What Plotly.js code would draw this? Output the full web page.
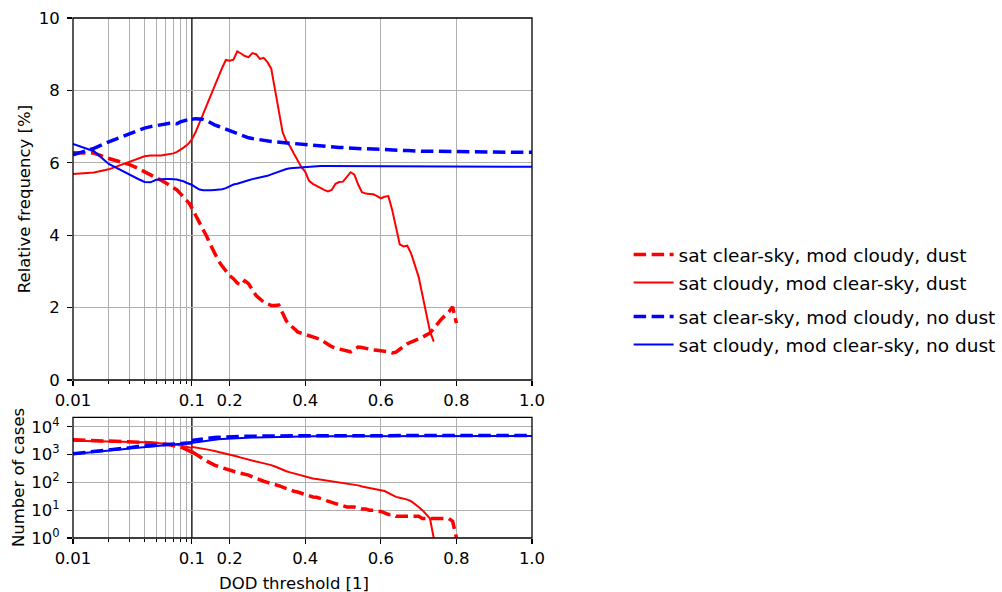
<!DOCTYPE html>
<html>
<head>
<meta charset="utf-8">
<script src="https://cdn.plot.ly/plotly-3.0.1.min.js"></script>
<style>html,body{margin:0;padding:0;background:#fff}#chart{width:1002px;height:592px}</style>
</head>
<body>
<div id="chart"></div>
<script>
// ---- data ----
const dodThreshold = [
  0.01,0.015,0.02,0.025,0.03,0.035,0.04,0.045,0.05,0.055,0.06,0.065,0.07,0.075,0.08,0.085,0.09,0.095,0.1,
  0.11,0.12,0.13,0.14,0.15,0.16,0.17,0.18,0.19,0.2,
  0.21,0.22,0.23,0.24,0.25,0.26,0.27,0.28,0.29,0.3,
  0.31,0.32,0.33,0.34,0.35,0.36,0.37,0.38,0.39,0.4,
  0.41,0.42,0.43,0.44,0.45,0.46,0.47,0.48,0.49,0.5,
  0.51,0.52,0.53,0.54,0.55,0.56,0.57,0.58,0.59,0.6,
  0.61,0.62,0.63,0.64,0.65,0.66,0.67,0.68,0.69,0.7,
  0.71,0.72,0.73,0.74,0.75,0.76,0.77,0.78,0.79,0.8,
  0.85,0.9,0.95,1.0
];

const legendLabels = [
  'sat clear-sky, mod cloudy, dust',
  'sat cloudy, mod clear-sky, dust',
  'sat clear-sky, mod cloudy, no dust',
  'sat cloudy, mod clear-sky, no dust'
];

// Relative frequency [%]
const freqClearCloudyDust = [
  6.28,6.27,6.12,6.02,5.95,5.85,5.76,5.68,5.60,5.52,5.45,5.37,5.30,5.25,5.15,5.06,4.98,4.88,4.75,
  4.55,4.38,4.18,3.95,3.72,3.50,3.30,3.15,3.00,2.88,
  2.80,2.68,2.62,2.74,2.66,2.48,2.33,2.24,2.15,2.10,
  2.06,2.06,2.07,1.85,1.63,1.52,1.42,1.33,1.29,1.26,
  1.24,1.21,1.16,1.12,1.05,0.99,0.92,0.88,0.85,0.82,
  0.79,0.78,0.85,0.91,0.90,0.87,0.85,0.83,0.82,0.81,
  0.80,0.78,0.75,0.77,0.85,0.93,1.00,1.05,1.09,1.13,
  1.18,1.24,1.30,1.42,1.56,1.68,1.78,1.88,2.02,1.57,
  null,null,null,null
];
const freqCloudyClearDust = [
  5.69,5.73,5.82,5.94,6.03,6.10,6.18,6.20,6.19,6.20,6.22,6.24,6.26,6.30,6.35,6.42,6.48,6.55,6.65,
  6.85,7.10,7.38,7.65,7.90,8.12,8.40,8.62,8.84,8.82,
  8.85,9.08,9.02,8.95,8.92,9.03,9.00,8.87,8.90,8.78,
  8.60,8.05,7.40,6.85,6.59,6.45,6.25,6.05,5.88,5.75,
  5.50,5.42,5.36,5.30,5.25,5.21,5.25,5.42,5.47,5.48,
  5.62,5.74,5.67,5.40,5.19,5.15,5.14,5.13,5.08,5.02,
  5.06,5.08,4.70,4.25,3.75,3.69,3.71,3.50,3.20,2.85,
  2.35,1.85,1.35,1.06,null,null,null,null,null,null,
  null,null,null,null
];
const freqClearCloudyNoDust = [
  6.22,6.40,6.58,6.70,6.82,6.90,6.96,7.00,7.03,7.05,7.07,7.09,7.10,7.08,7.13,7.16,7.19,7.20,7.21,
  7.22,7.21,7.20,7.16,7.10,7.05,7.01,6.97,6.93,6.89,
  6.85,6.80,6.75,6.71,6.69,6.67,6.65,6.63,6.61,6.60,
  6.59,6.58,6.57,6.55,6.54,6.53,6.52,6.51,6.51,6.50,
  6.49,6.48,6.47,6.46,6.45,6.44,6.44,6.43,6.42,6.42,
  6.41,6.41,6.40,6.40,6.39,6.39,6.38,6.38,6.38,6.37,
  6.37,6.36,6.36,6.35,6.35,6.34,6.34,6.33,6.33,6.33,
  6.32,6.32,6.32,6.32,6.31,6.31,6.31,6.31,6.31,6.30,
  6.30,6.30,6.29,6.29
];
const freqCloudyClearNoDust = [
  6.52,6.32,5.97,5.80,5.67,5.56,5.47,5.46,5.53,5.55,5.55,5.55,5.55,5.54,5.51,5.49,5.45,5.42,5.39,
  5.32,5.26,5.24,5.23,5.24,5.25,5.25,5.27,5.30,5.35,
  5.40,5.42,5.46,5.48,5.52,5.55,5.57,5.59,5.62,5.64,
  5.68,5.72,5.76,5.80,5.83,5.85,5.86,5.87,5.88,5.89,
  5.90,5.91,5.91,5.91,5.91,5.91,5.91,5.91,5.91,5.91,
  5.91,5.91,5.91,5.91,5.91,5.91,5.91,5.91,5.91,5.91,
  5.91,5.91,5.91,5.91,5.91,5.90,5.90,5.90,5.90,5.90,
  5.90,5.90,5.90,5.90,5.90,5.90,5.90,5.90,5.90,5.90,
  5.90,5.90,5.89,5.89
];

// Number of cases
const casesClearCloudyDust = [
  3388,3236,3090,2951,2884,2818,2754,2630,2570,2455,2344,2239,2138,1995,1862,1698,1549,1413,1259,
  1047,851,676,562,479,417,372,331,302,282,
  251,229,214,204,182,158,138,120,110,100,
  93,85,76,68,59,52,48,45,41,36,
  32,30,29,27,24,21,19,17,15,14,
  13,13,13,12,11,11,10,10,9,9,
  8,7,7,6,6,6,6,6,6,6,
  5,5,5,5,5,5,5,5,4,1,
  null,null,null,null
];
const casesCloudyClearDust = [
  3162,3090,3020,2951,2884,2818,2754,2692,2630,2570,2455,2399,2291,2239,2138,2089,1995,1950,1905,
  1778,1660,1585,1514,1445,1349,1259,1175,1096,1023,
  933,851,776,708,646,603,562,525,490,457,
  417,372,324,282,251,229,209,191,178,162,
  148,138,132,126,120,115,110,105,100,98,
  95,91,85,78,71,66,63,59,55,52,
  49,42,34,30,28,26,24,21,17,13,
  10,7,5,1,null,null,null,null,null,null,
  null,null,null,null
];
const casesClearCloudyNoDust = [
  1072,1259,1445,1622,1778,1950,2089,2239,2344,2512,2630,2754,2884,2951,3020,3090,3162,3236,3311,
  3467,3631,3802,3890,3981,4074,4169,4266,4315,4365,
  4410,4450,4490,4530,4571,4600,4620,4640,4660,4677,
  4690,4700,4710,4720,4730,4740,4750,4760,4770,4786,
  4790,4790,4790,4790,4790,4790,4790,4790,4790,4790,
  4800,4800,4800,4800,4800,4800,4800,4800,4800,4800,
  4810,4810,4810,4810,4810,4810,4810,4810,4810,4810,
  4820,4820,4820,4820,4820,4820,4820,4820,4820,4820,
  4830,4830,4840,4840
];
const casesCloudyClearNoDust = [
  1047,1202,1380,1514,1660,1778,1905,1995,2089,2188,2239,2291,2344,2399,2455,2512,2570,2630,2692,
  2818,2951,3090,3236,3388,3467,3548,3631,3715,3802,
  3850,3900,3950,4000,4074,4110,4150,4190,4230,4266,
  4290,4310,4330,4350,4380,4410,4440,4470,4500,4519,
  4530,4530,4530,4530,4530,4530,4530,4530,4530,4530,
  4550,4550,4550,4550,4550,4550,4550,4550,4550,4550,
  4570,4570,4570,4570,4570,4570,4570,4570,4570,4570,
  4590,4590,4590,4590,4590,4590,4590,4590,4590,4590,
  4600,4600,4610,4620
];

const logTickVals = [0.01, 0.1];
const logTickText = ['0.01', '0.1'];
const logMinorVals = [0.02,0.03,0.04,0.05,0.06,0.07,0.08,0.09];
const linTickVals = [0.2, 0.4, 0.6, 0.8, 1.0];
const linTickText = ['0.2', '0.4', '0.6', '0.8', '1.0'];
const freqTickVals = [0, 2, 4, 6, 8, 10];
const casesTickVals = [1, 10, 100, 1000, 10000];
const casesTickText = ['10<sup>0</sup>','10<sup>1</sup>','10<sup>2</sup>','10<sup>3</sup>','10<sup>4</sup>'];

// ---- styling ----
const FONT = 'DejaVu Sans, sans-serif';
const TICKFS = 16.5;
const GRID = '#b0b0b0';
const SPLIT = 0.259;          // fraction of the width used by the log part (0.01–0.1)
const TOP_DOM = [0.3038, 1];
const BOT_DOM = [0, 0.2321];
const DASH = '12.5px,5.5px';

const seriesDefs = [
  {name: legendLabels[0], freq: freqClearCloudyDust, cases: casesClearCloudyDust, color: '#ff0000', dash: DASH, width: 3.5, legend: 'legend', group: 'g1'},
  {name: legendLabels[1], freq: freqCloudyClearDust, cases: casesCloudyClearDust, color: '#ff0000', dash: 'solid', width: 2, legend: 'legend', group: 'g2'},
  {name: legendLabels[2], freq: freqClearCloudyNoDust, cases: casesClearCloudyNoDust, color: '#0000ff', dash: DASH, width: 3.5, legend: 'legend2', group: 'g3'},
  {name: legendLabels[3], freq: freqCloudyClearNoDust, cases: casesCloudyClearNoDust, color: '#0000ff', dash: 'solid', width: 2, legend: 'legend2', group: 'g4'}
];

const traces = [];
seriesDefs.forEach(d => {
  const base = {type: 'scatter', mode: 'lines', x: dodThreshold, connectgaps: false,
    line: {color: d.color, dash: d.dash, width: d.width}, hoverinfo: 'skip', legendgroup: d.group, legend: d.legend, name: d.name};
  traces.push(Object.assign({}, base, {y: d.freq, xaxis: 'x', yaxis: 'y', showlegend: false}));
  traces.push(Object.assign({}, base, {y: d.freq, xaxis: 'x2', yaxis: 'y', showlegend: true}));
  traces.push(Object.assign({}, base, {y: d.cases, xaxis: 'x3', yaxis: 'y2', showlegend: false}));
  traces.push(Object.assign({}, base, {y: d.cases, xaxis: 'x4', yaxis: 'y2', showlegend: false}));
});

function logAxis(anchor) {
  return {type: 'log', domain: [0, SPLIT], range: [Math.log10(0.01), Math.log10(0.1)], anchor: anchor,
    tickmode: 'array', tickvals: logTickVals, ticktext: logTickText,
    ticks: 'outside', ticklen: 5, tickwidth: 1.2, tickcolor: '#000', ticklabelstandoff: 0,
    showgrid: true, gridcolor: GRID, gridwidth: 1.1, zeroline: false, showline: false,
    tickfont: {family: FONT, size: TICKFS, color: '#000'},
    minor: {tickmode: 'array', tickvals: logMinorVals, ticks: 'outside', ticklen: 3, tickwidth: 1, tickcolor: '#000',
      showgrid: true, gridcolor: GRID, gridwidth: 1.1}};
}
function linAxis(anchor) {
  return {type: 'linear', domain: [SPLIT, 1], range: [0.1, 1.0], anchor: anchor,
    tickmode: 'array', tickvals: linTickVals, ticktext: linTickText,
    ticks: 'outside', ticklen: 5, tickwidth: 1.2, tickcolor: '#000', ticklabelstandoff: 0,
    showgrid: true, gridcolor: GRID, gridwidth: 1.1, zeroline: false, showline: false,
    tickfont: {family: FONT, size: TICKFS, color: '#000'}};
}

const legendCommon = {xref: 'paper', yref: 'paper', xanchor: 'left', yanchor: 'top',
  font: {family: FONT, size: 18.5, color: '#000'}, bgcolor: 'rgba(0,0,0,0)', borderwidth: 0,
  traceorder: 'grouped', tracegroupgap: 1, itemwidth: 40, itemclick: false, itemdoubleclick: false};

const layout = {
  width: 1002, height: 592,
  margin: {l: 73, r: 470, t: 18, b: 54, pad: 0, autoexpand: false},
  paper_bgcolor: '#ffffff', plot_bgcolor: '#ffffff',
  font: {family: FONT, size: TICKFS, color: '#000'},
  showlegend: true,
  xaxis: logAxis('y'),
  xaxis2: linAxis('y'),
  xaxis3: logAxis('y2'),
  xaxis4: linAxis('y2'),
  yaxis: {domain: TOP_DOM, range: [0, 10], anchor: 'x', tickmode: 'array', tickvals: freqTickVals,
    ticks: 'outside', ticklen: 5, tickwidth: 1.2, tickcolor: '#000', ticklabelstandoff: 4,
    showgrid: true, gridcolor: GRID, gridwidth: 1.1, zeroline: false, showline: false,
    tickfont: {family: FONT, size: TICKFS, color: '#000'}},
  yaxis2: {domain: BOT_DOM, type: 'log', range: [0, 4.34], anchor: 'x3', tickmode: 'array',
    tickvals: casesTickVals, ticktext: casesTickText,
    ticks: 'outside', ticklen: 5, tickwidth: 1.2, tickcolor: '#000', ticklabelstandoff: 4,
    showgrid: true, gridcolor: GRID, gridwidth: 1.1, zeroline: false, showline: false,
    tickfont: {family: FONT, size: TICKFS, color: '#000'}},
  legend: Object.assign({}, legendCommon, {x: 1.2105, y: 0.581}),
  legend2: Object.assign({}, legendCommon, {x: 1.2105, y: 0.4615}),
  shapes: [
    {type: 'line', xref: 'paper', yref: 'paper', x0: SPLIT, x1: SPLIT, y0: TOP_DOM[0], y1: TOP_DOM[1], line: {color: '#000', width: 1.3}, layer: 'between'},
    {type: 'line', xref: 'paper', yref: 'paper', x0: SPLIT, x1: SPLIT, y0: BOT_DOM[0], y1: BOT_DOM[1], line: {color: '#000', width: 1.3}, layer: 'between'},
    {type: 'rect', xref: 'paper', yref: 'paper', x0: 0, x1: 1, y0: TOP_DOM[0], y1: TOP_DOM[1], line: {color: '#000', width: 1.3}, layer: 'above'},
    {type: 'rect', xref: 'paper', yref: 'paper', x0: 0, x1: 1, y0: BOT_DOM[0], y1: BOT_DOM[1], line: {color: '#000', width: 1.3}, layer: 'above'}
  ],
  annotations: [
    {text: 'Relative frequency [%]', xref: 'paper', yref: 'paper', x: -0.104, y: 0.652, textangle: -90,
      showarrow: false, xanchor: 'center', yanchor: 'middle', font: {family: FONT, size: TICKFS, color: '#000'}},
    {text: 'Number of cases', xref: 'paper', yref: 'paper', x: -0.119, y: 0.116, textangle: -90,
      showarrow: false, xanchor: 'center', yanchor: 'middle', font: {family: FONT, size: TICKFS, color: '#000'}},
    {text: 'DOD threshold [1]', xref: 'paper', yref: 'paper', x: 0.4815, y: -0.088,
      showarrow: false, xanchor: 'center', yanchor: 'middle', font: {family: FONT, size: TICKFS, color: '#000'}}
  ]
};

Plotly.newPlot('chart', traces, layout, {staticPlot: true, displayModeBar: false});
</script>
</body>
</html>
